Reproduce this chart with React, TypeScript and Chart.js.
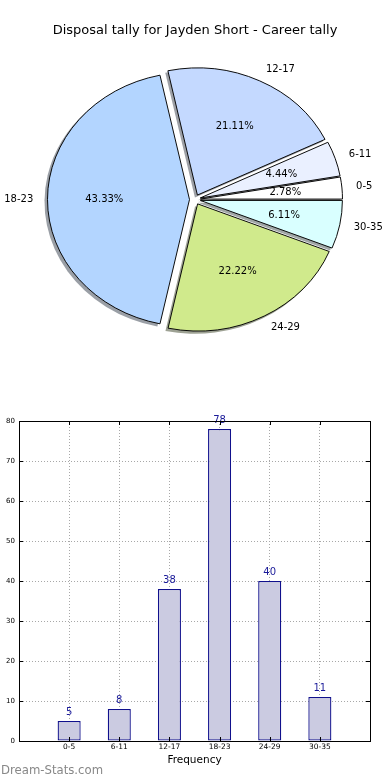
import React, { useEffect, useRef } from 'react';
import { Chart, registerables } from 'chart.js';

Chart.register(...registerables);

// ---- data ----
const categories = ['0-5', '6-11', '12-17', '18-23', '24-29', '30-35'];
const counts = [5, 8, 38, 78, 40, 11];
const sliceColors = ['#ffffff', '#eaf0ff', '#c4d9ff', '#b3d5ff', '#d0ea8c', '#d9ffff'];
const yMax = 80;
const yStep = 10;
const pieTitle = 'Disposal tally for Jayden Short - Career tally';
const xTitle = 'Frequency';
const watermark = 'Dream-Stats.com';

const FONT = "'DejaVu Sans', sans-serif";
const SQUASH = 0.895;
const EXPLODE = 5.5;
const SHADOW_DX = -2.5;
const SHADOW_DY = 2.6;

const total = counts.reduce((a, b) => a + b, 0);
// matplotlib draws counter-clockwise from 3 o'clock; Chart.js draws clockwise, so reverse
const pieLabels = [...categories].reverse();
const pieValues = [...counts].reverse();
const pieColors = [...sliceColors].reverse();

function hexToRgb(h: string) {
  const n = parseInt(h.slice(1), 16);
  return [(n >> 16) & 255, (n >> 8) & 255, n & 255];
}

const piePlugin = {
  id: 'mplPie',
  beforeDatasetsDraw(chart: any) {
    const ctx = chart.ctx as CanvasRenderingContext2D;
    const arcs = chart.getDatasetMeta(0).data as any[];
    if (!arcs.length) return false;
    const cx = arcs[0].x;
    const cy = arcs[0].y;
    ctx.save();
    ctx.translate(cx, cy);
    ctx.scale(1, SQUASH);
    ctx.translate(-cx, -cy);
    // shadows (below all wedges)
    arcs.forEach((arc, i) => {
      const mid = (arc.startAngle + arc.endAngle) / 2;
      const ox = cx + Math.cos(mid) * EXPLODE + SHADOW_DX;
      const oy = cy + Math.sin(mid) * EXPLODE + SHADOW_DY;
      const [r, g, b] = hexToRgb(pieColors[i]);
      ctx.beginPath();
      ctx.moveTo(ox, oy);
      ctx.arc(ox, oy, arc.outerRadius + 0.5, arc.startAngle, arc.endAngle);
      ctx.closePath();
      ctx.fillStyle = `rgba(${Math.round(r * 0.3)},${Math.round(g * 0.3)},${Math.round(b * 0.3)},0.5)`;
      ctx.fill();
    });
    // wedges
    arcs.forEach((arc) => {
      const mid = (arc.startAngle + arc.endAngle) / 2;
      ctx.save();
      ctx.translate(Math.cos(mid) * EXPLODE, Math.sin(mid) * EXPLODE);
      arc.draw(ctx);
      ctx.restore();
    });
    ctx.restore();
    // labels
    ctx.save();
    ctx.font = `10px ${FONT}`;
    ctx.fillStyle = '#000';
    ctx.textBaseline = 'middle';
    arcs.forEach((arc, i) => {
      const mid = (arc.startAngle + arc.endAngle) / 2;
      const c = Math.cos(mid);
      const s = Math.sin(mid);
      const r = arc.outerRadius;
      const lx = cx + c * (EXPLODE + 1.1 * r);
      const ly = cy + s * (EXPLODE + 1.1 * r) * SQUASH;
      ctx.textAlign = c > 0 ? 'left' : 'right';
      ctx.fillText(String(chart.data.labels[i]), lx, ly);
      const px = cx + c * (EXPLODE + 0.6 * r);
      const py = cy + s * (EXPLODE + 0.6 * r) * SQUASH;
      ctx.textAlign = 'center';
      const v = chart.data.datasets[0].data[i] as number;
      ctx.fillText(((v / total) * 100).toFixed(2) + '%', px, py);
    });
    ctx.restore();
    return false;
  },
};

const barPlugin = {
  id: 'mplBar',
  afterDraw(chart: any) {
    const ctx = chart.ctx as CanvasRenderingContext2D;
    const { left, right, top, bottom } = chart.chartArea;
    const xs = chart.scales.x;
    const ys = chart.scales.y;
    ctx.save();
    // value labels
    ctx.font = `10px ${FONT}`;
    ctx.fillStyle = '#1a1a99';
    ctx.textAlign = 'center';
    ctx.textBaseline = 'middle';
    const meta = chart.getDatasetMeta(0);
    meta.data.forEach((el: any, i: number) => {
      ctx.fillText(String(counts[i]), el.x, el.y - 9);
    });
    // frame
    ctx.strokeStyle = '#000';
    ctx.lineWidth = 1;
    ctx.strokeRect(Math.round(left) + 0.5, Math.round(top) + 0.5, Math.round(right - left), Math.round(bottom - top));
    // inward tick marks
    ctx.beginPath();
    ys.ticks.forEach((t: any) => {
      const y = Math.round(ys.getPixelForValue(t.value)) + 0.5;
      ctx.moveTo(left, y); ctx.lineTo(left + 4, y);
      ctx.moveTo(right - 4, y); ctx.lineTo(right, y);
    });
    xs.ticks.forEach((t: any) => {
      if (t.value <= 0 || t.value >= categories.length + 1) return;
      const x = Math.round(xs.getPixelForValue(t.value)) + 0.5;
      ctx.moveTo(x, bottom); ctx.lineTo(x, bottom - 4);
      ctx.moveTo(x, top); ctx.lineTo(x, top + 4);
    });
    ctx.stroke();
    ctx.restore();
  },
};

export default function App() {
  const pieRef = useRef<HTMLCanvasElement | null>(null);
  const barRef = useRef<HTMLCanvasElement | null>(null);

  useEffect(() => {
    const pie = new Chart(pieRef.current as HTMLCanvasElement, {
      type: 'pie',
      data: {
        labels: pieLabels,
        datasets: [
          {
            data: pieValues,
            backgroundColor: pieColors,
            borderColor: '#000',
            borderWidth: 1,
            borderJoinStyle: 'miter',
            hoverOffset: 0,
            radius: 142,
          } as any,
        ],
      },
      options: {
        responsive: false,
        animation: false,
        events: [],
        rotation: 90,
        layout: { padding: { bottom: 19.6 } },
        plugins: {
          legend: { display: false },
          tooltip: { enabled: false },
          title: {
            display: true,
            text: pieTitle,
            color: '#000',
            font: { family: FONT, size: 13, weight: 'normal' },
            padding: { top: 23, bottom: 0 },
          },
        },
      } as any,
      plugins: [piePlugin],
    });

    const bar = new Chart(barRef.current as HTMLCanvasElement, {
      type: 'bar',
      data: {
        datasets: [
          {
            data: counts.map((v, i) => ({ x: i + 1, y: v })),
            backgroundColor: '#cbcbe1',
            borderColor: '#10108c',
            borderWidth: 1.3,
            borderSkipped: false,
            barPercentage: 0.46,
            categoryPercentage: 1,
          } as any,
        ],
      },
      options: {
        responsive: false,
        animation: false,
        events: [],
        layout: { padding: { top: 21, right: 20, left: 0, bottom: 0 } },
        plugins: { legend: { display: false }, tooltip: { enabled: false } },
        scales: {
          x: {
            type: 'linear',
            min: 0,
            max: categories.length + 1,
            offset: false,
            z: 1,
            afterFit: (s: any) => { s.height = 39; },
            ticks: {
              stepSize: 1,
              autoSkip: false,
              maxRotation: 0,
              padding: 2,
              color: '#000',
              font: { family: FONT, size: 7.5 },
              callback: (v: any) => categories[Number(v) - 1] ?? '',
            },
            grid: {
              offset: false,
              drawTicks: false,
              lineWidth: 1,
              color: (c: any) =>
                c.tick && c.tick.value > 0 && c.tick.value < categories.length + 1 ? '#a8a8a8' : 'rgba(0,0,0,0)',
            },
            border: { display: true, color: '#000', width: 1, dash: [1, 2] },
            title: {
              display: true,
              text: xTitle,
              color: '#000',
              font: { family: FONT, size: 10.5 },
              padding: { top: 0, bottom: 13 },
            },
          },
          y: {
            min: 0,
            max: yMax,
            z: 1,
            afterFit: (s: any) => { s.width = 19; },
            ticks: {
              stepSize: yStep,
              padding: 4,
              color: '#000',
              font: { family: FONT, size: 7 },
            },
            grid: {
              drawTicks: false,
              lineWidth: 1,
              color: (c: any) =>
                c.tick && c.tick.value > 0 && c.tick.value < yMax ? '#a8a8a8' : 'rgba(0,0,0,0)',
            },
            border: { display: true, color: '#000', width: 1, dash: [1, 2] },
          },
        },
      } as any,
      plugins: [barPlugin],
    });

    return () => {
      pie.destroy();
      bar.destroy();
    };
  }, []);

  return (
    <div style={{ position: 'absolute', left: 0, top: 0, width: 390, height: 780, background: '#fff', overflow: 'hidden' }}>
      <canvas ref={pieRef} width={390} height={380} style={{ position: 'absolute', left: 0, top: 0, width: 390, height: 380 }} />
      <canvas ref={barRef} width={390} height={380} style={{ position: 'absolute', left: 0, top: 400, width: 390, height: 380 }} />
      <div
        style={{
          position: 'absolute',
          left: 1,
          top: 764,
          fontFamily: FONT,
          fontSize: 11.7,
          lineHeight: '12px',
          color: '#888888',
          whiteSpace: 'nowrap',
        }}
      >
        {watermark}
      </div>
    </div>
  );
}
